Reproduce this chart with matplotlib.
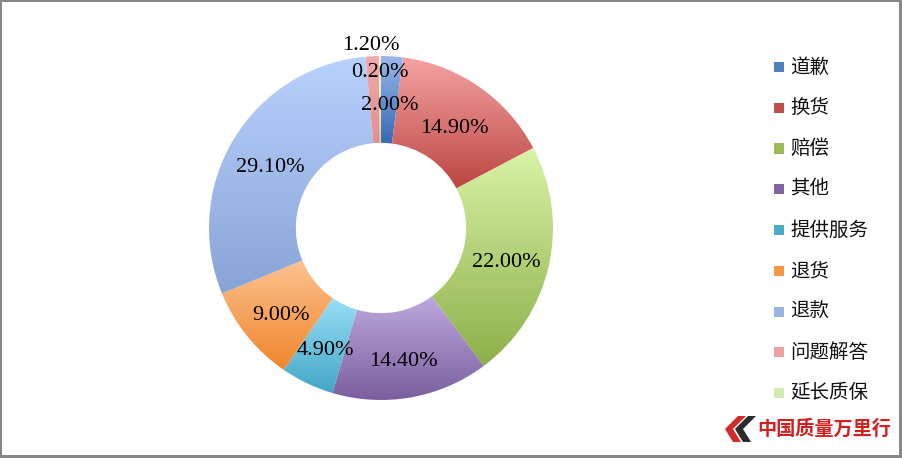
import numpy as np
import matplotlib
matplotlib.use("Agg")
import matplotlib.pyplot as plt
from matplotlib.patches import Rectangle, Polygon
from matplotlib.colors import LinearSegmentedColormap
from matplotlib.transforms import offset_copy

# ---- data ----
categories = ["道歉", "换货", "赔偿", "其他", "提供服务", "退货", "退款", "问题解答", "延长质保"]
values = [2.00, 14.90, 22.00, 14.40, 4.90, 9.00, 29.10, 1.20, 0.20]
value_labels = ["2.00%", "14.90%", "22.00%", "14.40%", "4.90%", "9.00%", "29.10%", "1.20%", "0.20%"]

# ---- styles ----
top_colors = ["#9ab8ec", "#f4a3a2", "#d9f2a8", "#bda9de", "#98def7", "#fcc190", "#b9d1fe", "#f2abab", "#e6f6c8"]
bot_colors = ["#3568b4", "#bc4643", "#8cb048", "#7b5e9f", "#42a6c6", "#f0852a", "#88a3d6", "#e28e8e", "#cfe6a0"]
legend_colors = ["#4f81bd", "#c0504d", "#9bbb59", "#8064a2", "#4bacc6", "#f79646", "#98b4e6", "#eba0a0", "#d5eab0"]
label_radius = [0.75, 0.75, 0.75, 0.75, 0.75, 0.75, 0.75, 1.10, 0.94]

W, H = 902, 458
fig = plt.figure(figsize=(W / 100, H / 100), dpi=100)
fig.patch.set_facecolor("white")

cx, cy, R = 381, 228, 172  # pixel center / radius
L = 1.06
half = R * L
ax = fig.add_axes([(cx - half) / W, (H - cy - half) / H, 2 * half / W, 2 * half / H])
ax.set_xlim(-L, L)
ax.set_ylim(-L, L)
ax.set_aspect("equal")
ax.axis("off")

wedges, _ = ax.pie(values, startangle=90, counterclock=False, radius=1.0,
                   colors=legend_colors,
                   wedgeprops=dict(width=0.505, linewidth=0))

label_tf = offset_copy(ax.transData, fig=fig, x=0, y=-4.5, units="points")
for i, w in enumerate(wedges):
    # vertical gradient clipped to the wedge
    w.set_facecolor("none")
    bb = w.get_path().get_extents(w.get_patch_transform())
    cmap = LinearSegmentedColormap.from_list("g", [bot_colors[i], top_colors[i]])
    grad = np.linspace(0, 1, 256).reshape(-1, 1)
    im = ax.imshow(grad, cmap=cmap, origin="lower", aspect="auto",
                   extent=[bb.x0, bb.x1, bb.y0, bb.y1], zorder=1, interpolation="bilinear")
    im.set_clip_path(w)
    ang = np.deg2rad((w.theta1 + w.theta2) / 2)
    r = label_radius[i]
    ax.text(r * np.cos(ang), r * np.sin(ang), value_labels[i], ha="center", va="center",
            fontsize=16, family="Liberation Serif", color="black", zorder=5,
            transform=label_tf)
ax.set_xlim(-L, L)
ax.set_ylim(-L, L)

# ---- legend (manual) ----
y0, pitch = 67, 40.75
for i, cat in enumerate(categories):
    yc = y0 + i * pitch
    fig.patches.append(Rectangle((774 / W, (H - yc - 5) / H), 10 / W, 10 / H,
                                 transform=fig.transFigure, facecolor=legend_colors[i],
                                 edgecolor="none"))
    fig.text(790 / W, (H - yc) / H, cat, ha="left", va="center", fontsize=14,
             family=["Noto Sans CJK SC", "DejaVu Sans"], color="#111111")

# ---- logo ----
def px(x, y):
    return (x / W, (H - y) / H)

red_chev = [px(738, 416), px(746, 416), px(733, 429), px(741, 442), px(733, 442), px(725, 429)]
blk_chev = [px(748, 416), px(756, 416), px(743, 429), px(751, 442), px(743, 442), px(735, 429)]
fig.patches.append(Polygon(red_chev, closed=True, transform=fig.transFigure,
                           facecolor="#d62a2a", edgecolor="none"))
fig.patches.append(Polygon(blk_chev, closed=True, transform=fig.transFigure,
                           facecolor="#2b2b2b", edgecolor="none"))
fig.text(757 / W, (H - 429) / H, "中国质量万里行", ha="left", va="center", fontsize=13.8,
         family=["Noto Sans CJK SC", "DejaVu Sans"], fontweight="bold", color="#d41f1f")

# ---- border ----
bc = "#878787"
fig.patches.append(Rectangle((0, 0), 2 / W, 1, transform=fig.transFigure, facecolor=bc, edgecolor="none"))
fig.patches.append(Rectangle((0, 1 - 2 / H), 1, 2 / H, transform=fig.transFigure, facecolor=bc, edgecolor="none"))
fig.patches.append(Rectangle((1 - 3 / W, 0), 3 / W, 1, transform=fig.transFigure, facecolor=bc, edgecolor="none"))
fig.patches.append(Rectangle((0, 0), 1, 3 / H, transform=fig.transFigure, facecolor=bc, edgecolor="none"))

fig.savefig("out.png", dpi=100, facecolor="white")
